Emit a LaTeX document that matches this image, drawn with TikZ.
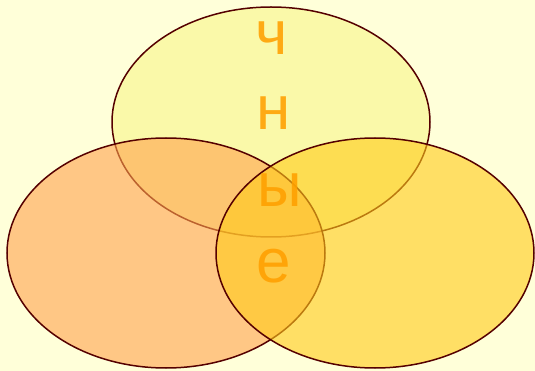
\documentclass[tikz,border=0pt]{standalone}
\usepackage{fontspec}
\setmainfont{Liberation Sans}
\usepackage{xcolor}
\usetikzlibrary{shapes.geometric}

\definecolor{bgcream}{RGB}{255,255,217}
\definecolor{rimred}{RGB}{85,0,0}
\definecolor{paleyel}{RGB}{248,245,137}
\definecolor{softorg}{RGB}{255,163,77}
\definecolor{goldfill}{RGB}{255,203,25}
\definecolor{lettorg}{RGB}{255,160,0}

\begin{document}
\begin{tikzpicture}[
    x=1pt, y=-1pt,
    blob/.style={ellipse, draw=rimred, line width=1.5pt, fill opacity=0.6, minimum width=318pt, minimum height=230pt, inner sep=0pt},
    letter/.style={anchor=base, text=lettorg, text opacity=0.88, font=\fontsize{62}{62}\selectfont, inner sep=0pt}
]
\fill[bgcream] (0,0) rectangle (535,371);
\useasboundingbox (0,0) rectangle (535,371);

\node[blob, fill=paleyel] (upper) at (271,122) {};
\node[blob, fill=softorg] (lowleft) at (166,253) {};
\node[blob, fill=goldfill] (lowright) at (375,253) {};

\node[letter] (ch) at (272,55) {ч};
\node[letter] (en) at (274,130) {н};
\node[letter] (yery) at (280,207) {ы};
\node[letter] (ie) at (274,283) {е};
\end{tikzpicture}
\end{document}
